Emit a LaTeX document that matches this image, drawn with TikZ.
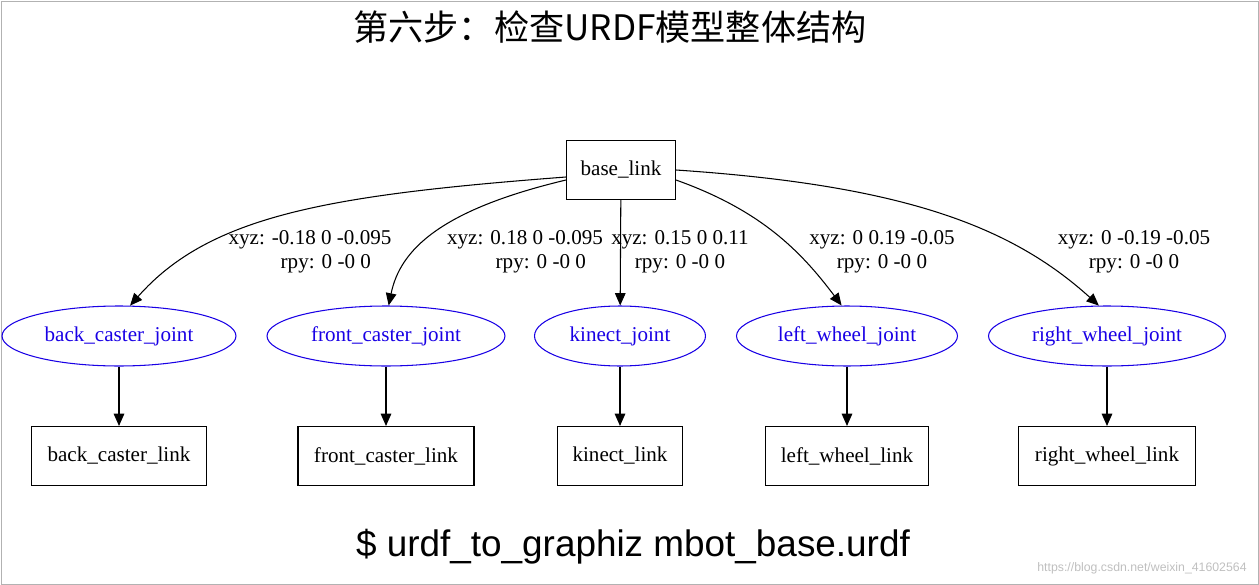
\documentclass[tikz,border=0pt]{standalone}
\usepackage{fontspec}
\setmainfont{Liberation Serif}
\newfontfamily\cjk{Noto Sans CJK SC}
\newfontfamily\sans{Liberation Sans}
\usetikzlibrary{arrows.meta, shapes.geometric}
\tikzstyle{graph}=[x=0.02cm, y=-0.02cm, >={Triangle[length=7pt,width=6pt]},
                   font=\fontsize{12}{13.5}\selectfont, line width=0.6pt]
\tikzstyle{link}=[draw, rectangle, minimum height=1.18cm, inner xsep=8pt]
\tikzstyle{joint}=[draw=blue!80!violet, ellipse, text=blue!80!violet,
                   minimum height=1.2cm, inner xsep=2pt]
\tikzstyle{lbl}=[align=center, inner sep=1pt]

\begin{document}
\begin{tikzpicture}[graph]
  \useasboundingbox (0,0) rectangle (1259,585);
  \draw[gray!60, line width=0.4pt] (1,1) rectangle (1258,584);
  \node[font=\cjk\fontsize{20}{24}\selectfont] (title) at (610,27) {第六步：检查URDF模型整体结构};
  \node[link] (base) at (621,170) {base\_link};
  \node[joint, minimum width=4.68cm] (bcj) at (119,336) {back\_caster\_joint};
  \node[joint, minimum width=4.76cm] (fcj) at (386,336) {front\_caster\_joint};
  \node[joint, minimum width=3.42cm] (kj) at (620,336) {kinect\_joint};
  \node[joint, minimum width=4.42cm] (lwj) at (847,336) {left\_wheel\_joint};
  \node[joint, minimum width=4.74cm] (rwj) at (1107,336) {right\_wheel\_joint};
  \node[link, minimum width=3.5cm] (bcl) at (119,456) {back\_caster\_link};
  \node[link, minimum width=3.52cm] (fcl) at (386,456) {front\_caster\_link};
  \node[link, minimum width=2.5cm] (kl) at (620,456) {kinect\_link};
  \node[link, minimum width=3.26cm] (lwl) at (847,456) {left\_wheel\_link};
  \node[link, minimum width=3.54cm] (rwl) at (1107,456) {right\_wheel\_link};
  \node[lbl] (l1) at (310,252) {xyz: -0.18 0 -0.095\\\hspace*{1.5em}rpy: 0 -0 0};
  \node[lbl] (l2) at (525,252) {xyz: 0.18 0 -0.095\\\hspace*{1.5em}rpy: 0 -0 0};
  \node[lbl] (l3) at (680,252) {xyz: 0.15 0 0.11\\rpy: 0 -0 0};
  \node[lbl] (l4) at (882,252) {xyz: 0 0.19 -0.05\\rpy: 0 -0 0};
  \node[lbl] (l5) at (1134,252) {xyz: 0 -0.19 -0.05\\rpy: 0 -0 0};
  \draw[->] (base.west) ++(0,7) .. controls (330,195) and (210,215) .. (bcj.70);
  \draw[->] (base.west) ++(0,10) .. controls (440,210) and (400,250) .. (fcj.85);
  \draw[->] (base) -- (kj);
  \draw[->] (base.east) ++(0,10) .. controls (760,210) and (800,250) .. (lwj.100);
  \draw[->] (base.east) ++(0,0) .. controls (900,185) and (1010,225) .. (rwj.105);
  \draw[->] (bcj) -- (bcl);
  \draw[->] (fcj) -- (fcl);
  \draw[->] (kj) -- (kl);
  \draw[->] (lwj) -- (lwl);
  \draw[->] (rwj) -- (rwl);
  \node[font=\sans\fontsize{21}{25}\selectfont] (cmd) at (633,547) {\$ urdf\_to\_graphiz mbot\_base.urdf};
  \node[font=\sans\fontsize{7}{8}\selectfont, text=gray!50] (wm) at (1142,568) {https://blog.csdn.net/weixin\_41602564};
\end{tikzpicture}
\end{document}
